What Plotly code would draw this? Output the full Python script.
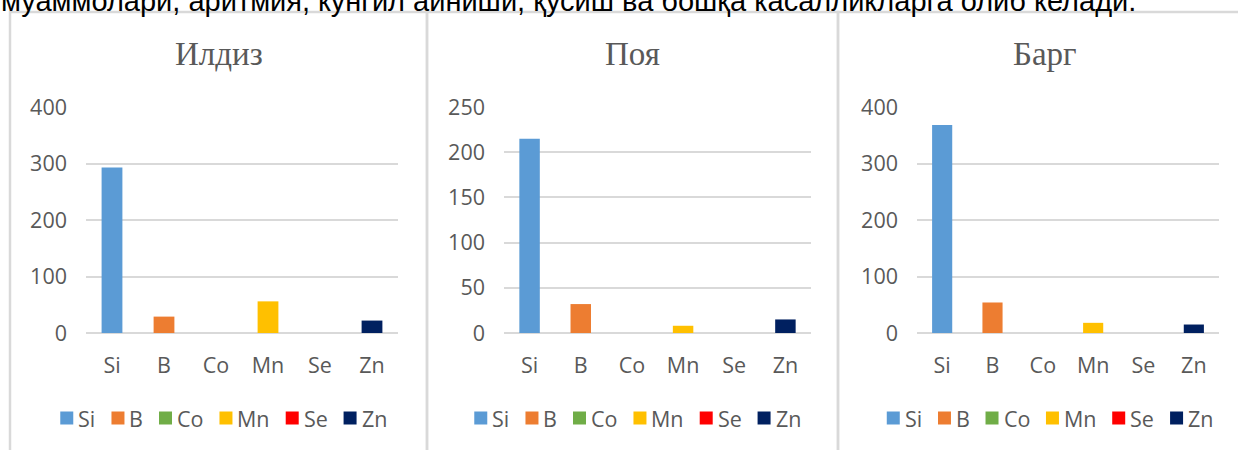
import plotly.graph_objects as go

# Element concentrations in three plant parts
elements = ["Si", "B", "Co", "Mn", "Se", "Zn"]
colors = ["#5b9bd5", "#ed7d31", "#70ad47", "#ffc000", "#ff0000", "#002060"]

titles = ["Илдиз", "Поя", "Барг"]
root_vals = [293, 29, 0, 56, 0, 22]
stem_vals = [215, 32, 0, 8, 0, 15]
leaf_vals = [368, 54, 0, 18, 0, 15]
y_max = [400, 250, 400]
y_step = [100, 50, 100]

intro_text = "муаммолари, аритмия, кўнгил айниши, қусиш ва бошқа касалликларга олиб келади."

W, H = 1238, 450
TEXT = "#595959"
GRID = "#d9d9d9"
FONT = "Open Sans"
FS = 21.5

# pixel layout of each panel: frame edges and plot area
frames = [(10, 427), (427, 838), (838, 1252)]
plots = [(86, 398), (504, 811), (917, 1219)]
plot_top, plot_bottom = 107, 333


def px(x):
    return x / W


def py(y):
    return 1 - y / H


# rough glyph advance widths (em) for the legend labels
_adv = {"S": 0.55, "i": 0.25, "B": 0.63, "C": 0.63, "o": 0.6, "M": 0.89,
        "n": 0.61, "e": 0.56, "Z": 0.56}


def text_w(s, size):
    return sum(_adv.get(c, 0.6) for c in s) * size


fig = go.Figure()
series = [root_vals, stem_vals, leaf_vals]

shapes = []
annotations = []

for i, vals in enumerate(series):
    xa = "x" if i == 0 else f"x{i + 1}"
    ya = "y" if i == 0 else f"y{i + 1}"
    fig.add_trace(go.Bar(
        x=elements, y=vals, marker=dict(color=colors, line=dict(width=0)),
        width=0.4, xaxis=xa, yaxis=ya, showlegend=False,
        hoverinfo="x+y",
    ))
    left, right = plots[i]
    key = "" if i == 0 else str(i + 1)
    fig.update_layout(**{
        f"xaxis{key}": dict(
            domain=[px(left), px(right)], anchor=ya, type="category",
            range=[-0.5, 5.5], showgrid=False, showline=False, zeroline=False,
            ticks="", ticklabelstandoff=17, automargin=False,
            tickfont=dict(family=FONT, size=FS, color=TEXT), fixedrange=True,
        ),
        f"yaxis{key}": dict(
            domain=[py(plot_bottom), py(plot_top)], anchor=xa,
            range=[0, y_max[i]], dtick=y_step[i], tick0=0,
            showgrid=True, gridcolor=GRID, gridwidth=2,
            zeroline=True, zerolinecolor=GRID, zerolinewidth=2,
            showline=False, ticks="", ticklabelstandoff=18, automargin=False,
            tickfont=dict(family=FONT, size=FS, color=TEXT), fixedrange=True,
        ),
    })

    # panel frame
    f0, f1 = frames[i]
    shapes.append(dict(type="rect", xref="paper", yref="paper",
                       x0=px(f0), x1=px(f1), y0=py(470), y1=py(12),
                       line=dict(color=GRID, width=2.5), layer="below"))

    # panel title
    cx = (f0 + f1) / 2
    annotations.append(dict(text=titles[i], xref="paper", yref="paper",
                            x=px(cx), y=py(54), xanchor="center", yanchor="middle",
                            showarrow=False,
                            font=dict(family="Liberation Serif", size=33, color=TEXT)))

    # legend row under each panel
    sq, gap_t, gap_i = 13, 5, 16
    widths = [sq + gap_t + text_w(e, FS) for e in elements]
    total = sum(widths) + gap_i * (len(elements) - 1)
    x = cx + 5 - total / 2
    ly = 418
    for e, c, w in zip(elements, colors, widths):
        shapes.append(dict(type="rect", xref="paper", yref="paper",
                           x0=px(x), x1=px(x + sq), y0=py(ly + sq / 2), y1=py(ly - sq / 2),
                           fillcolor=c, line=dict(width=0)))
        annotations.append(dict(text=e, xref="paper", yref="paper",
                                x=px(x + sq + gap_t - 2), y=py(ly), xanchor="left",
                                yanchor="middle", showarrow=False,
                                font=dict(family=FONT, size=FS, color=TEXT)))
        x += w + gap_i

# running text line above the charts
annotations.append(dict(text=intro_text, xref="paper", yref="paper",
                        x=px(-1), y=py(-17), xanchor="left", yanchor="top",
                        showarrow=False,
                        font=dict(family="Liberation Sans", size=29, color="#000000")))

fig.update_layout(
    width=W, height=H, margin=dict(l=0, r=0, t=0, b=0, pad=0, autoexpand=False),
    paper_bgcolor="white", plot_bgcolor="white",
    barmode="overlay", showlegend=False,
    shapes=shapes, annotations=annotations,
)

fig.write_html("out.html", config={"displayModeBar": False})
